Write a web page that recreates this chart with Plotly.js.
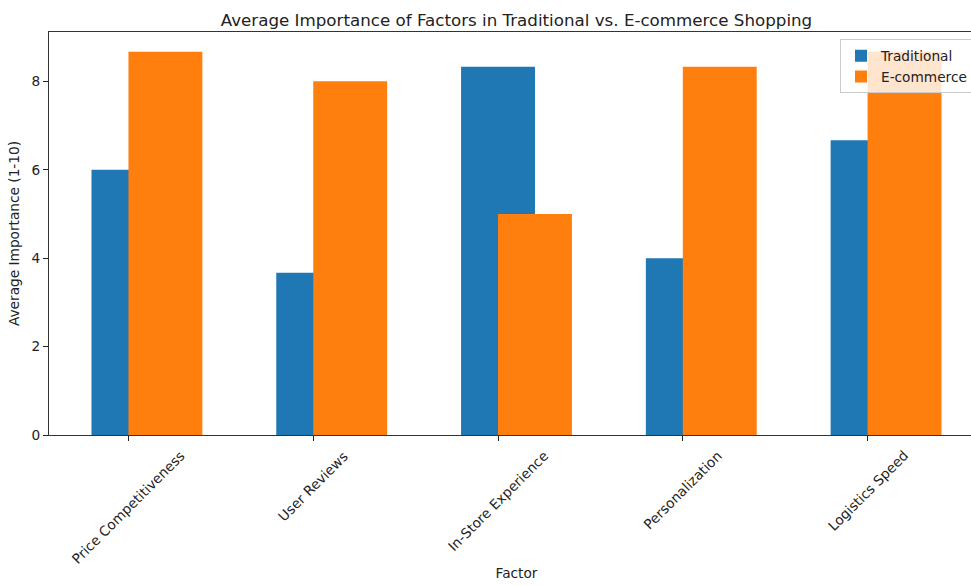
<!DOCTYPE html>
<html>
<head>
<meta charset="utf-8">
<script src="https://cdn.plot.ly/plotly-3.0.1.min.js"></script>
<style>
html, body { margin: 0; padding: 0; overflow: hidden; background: #fff; }
#chart { width: 990px; height: 585px; }
</style>
</head>
<body>
<div id="chart"></div>
<script>
const factors = ["Price Competitiveness", "User Reviews", "In-Store Experience", "Personalization", "Logistics Speed"];
const traditional = [6.0, 3.67, 8.33, 4.0, 6.67];
const ecommerce = [8.67, 8.0, 5.0, 8.33, 8.67];

const font = "DejaVu Sans, sans-serif";
const fs = 13.7;

const traces = [
  {
    type: "bar", name: "Traditional", x: factors, y: traditional,
    width: 0.4, offset: -0.2,
    marker: { color: "#1f77b4" }
  },
  {
    type: "bar", name: "E-commerce", x: factors, y: ecommerce,
    width: 0.4, offset: 0,
    marker: { color: "#ff7f0e" }
  }
];

// rotated category labels centred under each tick (matplotlib rotation=45, ha=center)
const tickLabels = factors.map(f => ({
  text: f, x: f, xref: "x", y: 0, yref: "paper",
  xanchor: "center", yanchor: "top", yshift: -10,
  textangle: -45, showarrow: false,
  font: { family: font, size: fs, color: "#222" }
}));

const layout = {
  width: 990, height: 585,
  margin: { l: 49, r: 6, t: 32, b: 150 },
  paper_bgcolor: "#fff", plot_bgcolor: "#fff",
  barmode: "overlay",
  font: { family: font, color: "#222", size: fs },
  title: {
    text: "Average Importance of Factors in Traditional vs. E-commerce Shopping",
    font: { family: font, size: 16.7, color: "#222" },
    x: 0.5, xref: "paper", xanchor: "center",
    y: 1, yref: "paper", yanchor: "bottom", pad: { b: 6 }
  },
  xaxis: {
    type: "category",
    range: [-0.43, 4.63],
    showticklabels: false,
    ticks: "outside", ticklen: 5, tickcolor: "#222",
    showline: true, linecolor: "#333", linewidth: 1, mirror: true,
    showgrid: false, zeroline: false,
    title: { text: "Factor", font: { family: font, size: fs, color: "#222" }, standoff: 128 }
  },
  yaxis: {
    range: [0, 9.117],
    tickvals: [0, 2, 4, 6, 8],
    ticks: "outside", ticklen: 5, tickcolor: "#222",
    showline: true, linecolor: "#333", linewidth: 1, mirror: true,
    showgrid: false, zeroline: false,
    tickfont: { family: font, size: fs, color: "#222" },
    title: { text: "Average Importance (1-10)", font: { family: font, size: fs, color: "#222" }, standoff: 8 }
  },
  annotations: tickLabels,
  showlegend: true,
  legend: {
    x: 0.846, y: 0.982, xanchor: "left", yanchor: "top",
    bgcolor: "rgba(255,255,255,0.8)", bordercolor: "#cccccc", borderwidth: 1,
    font: { family: font, size: fs, color: "#222" },
    tracegroupgap: 0
  }
};

Plotly.newPlot("chart", traces, layout, { displayModeBar: false, staticPlot: true });
</script>
</body>
</html>
